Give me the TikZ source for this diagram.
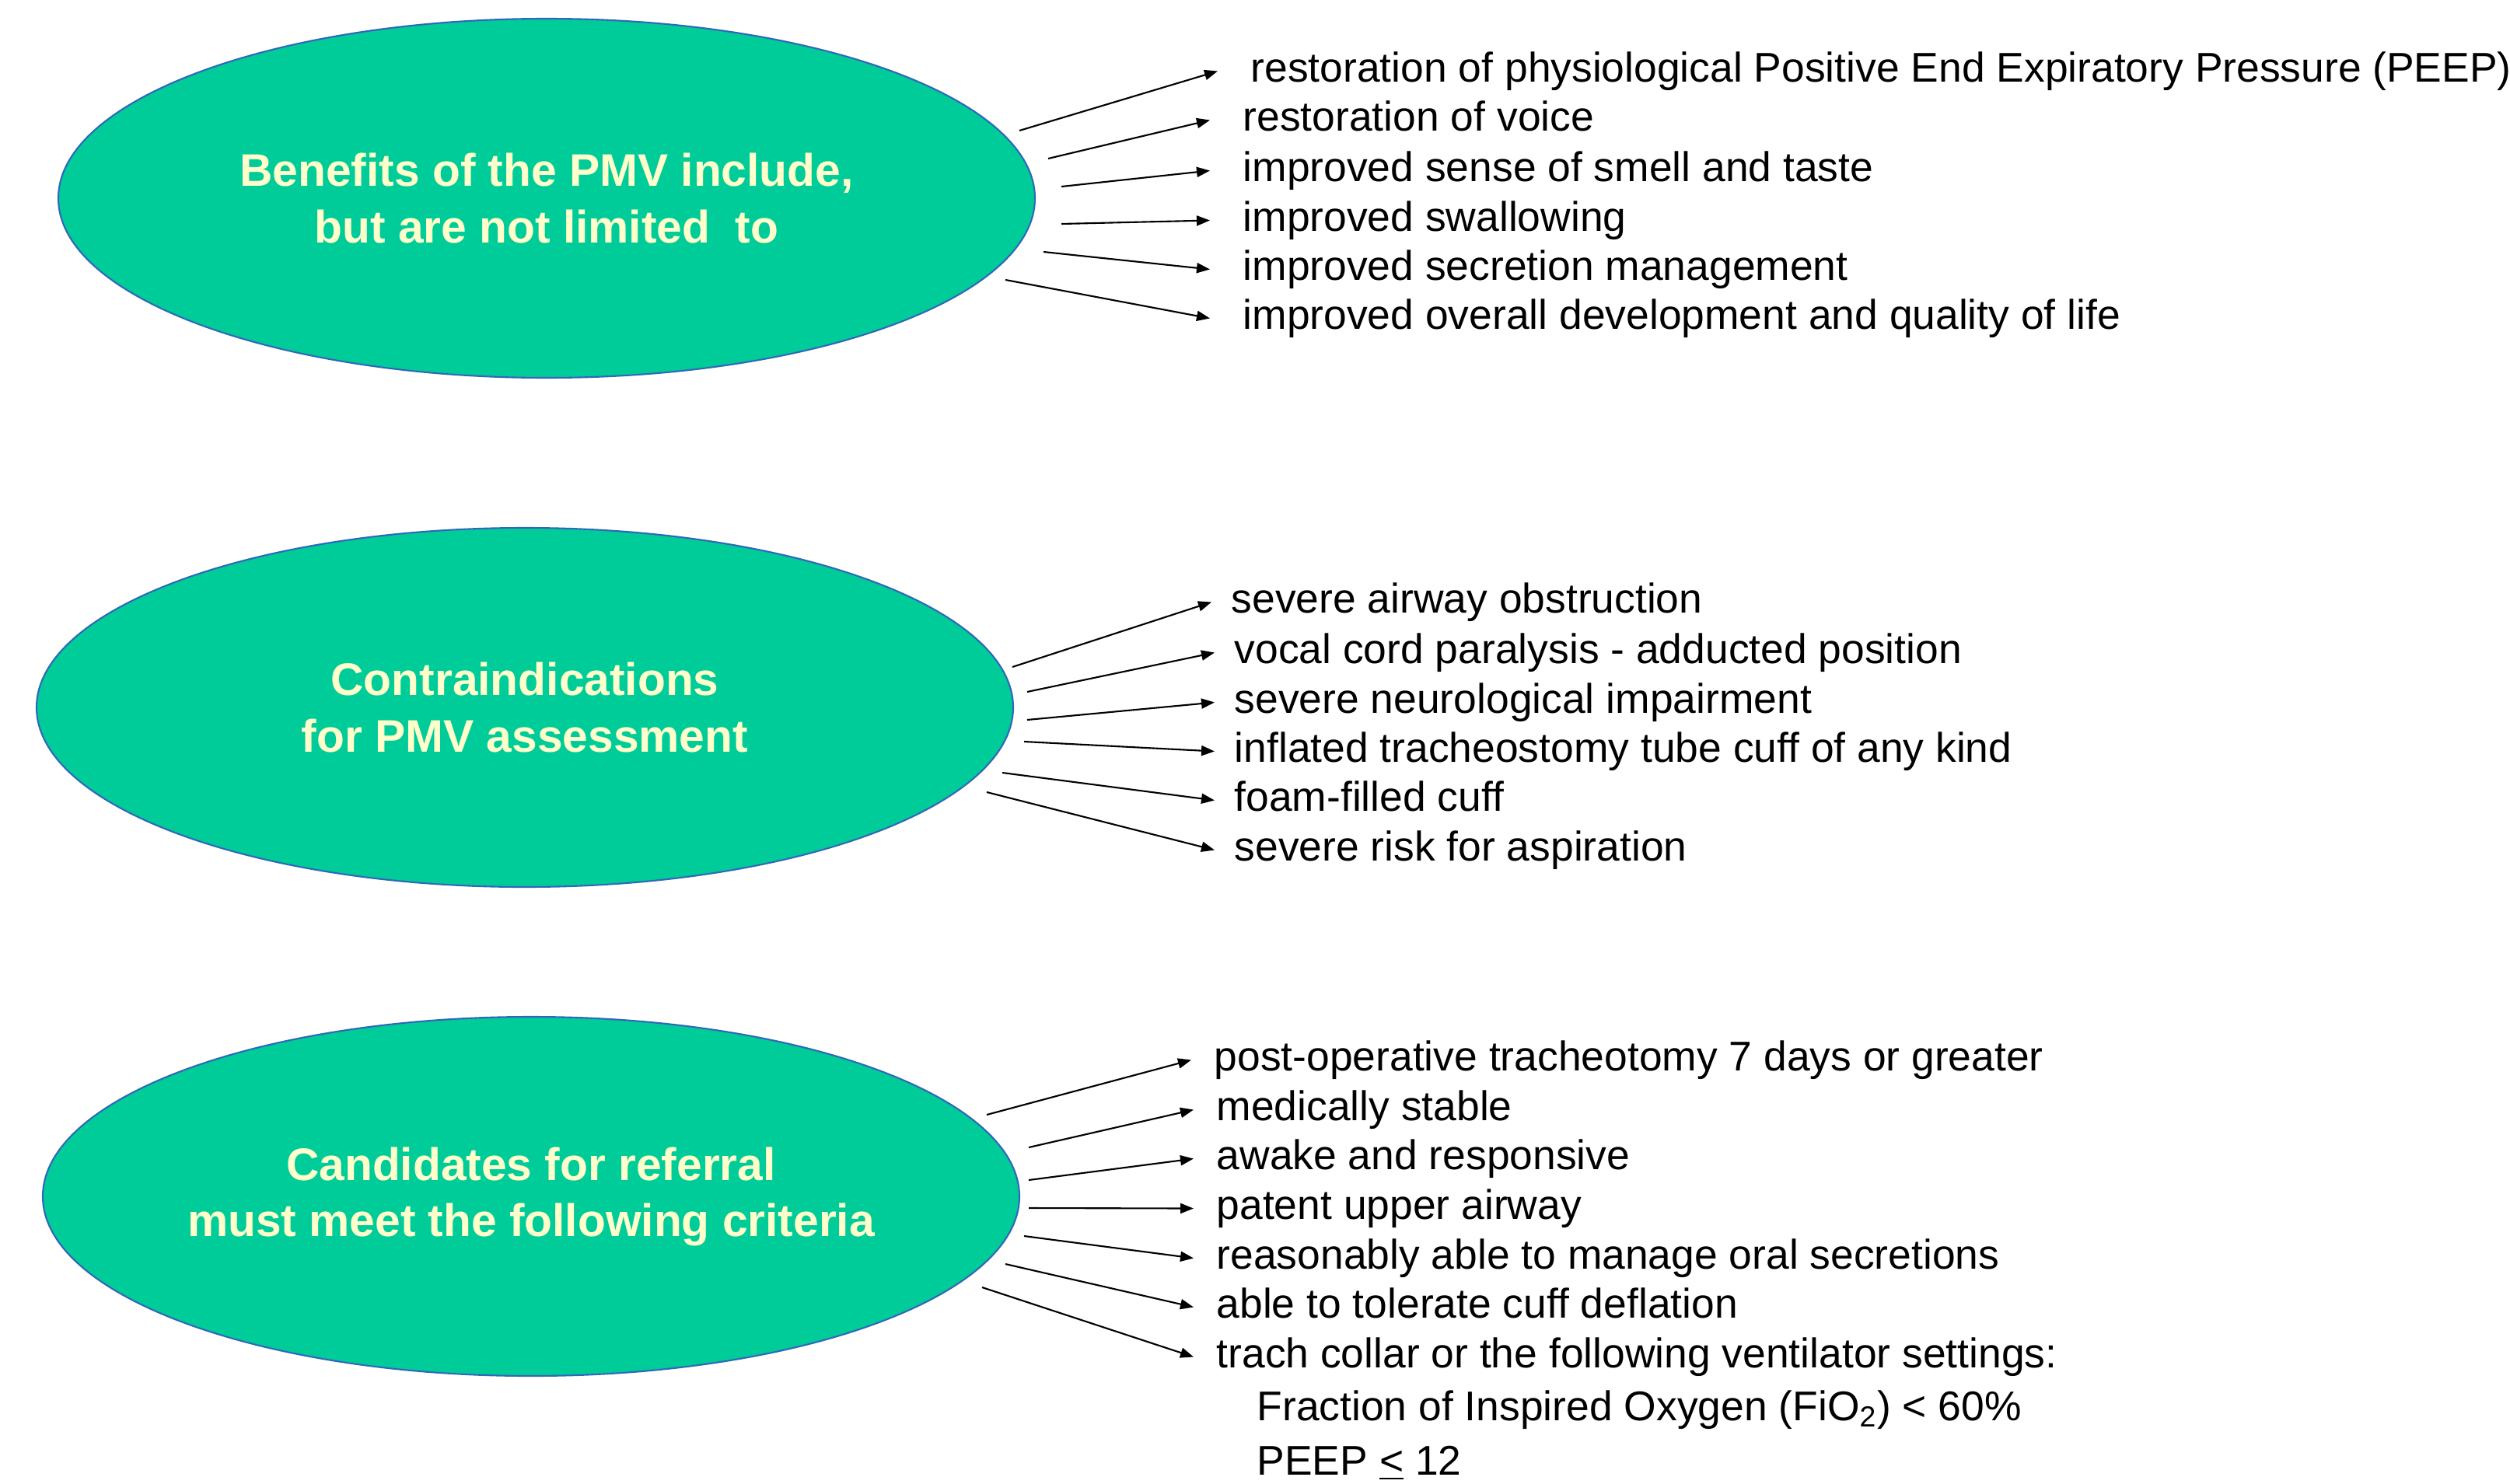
\documentclass[tikz,border=0pt]{standalone}
\usepackage{fontspec}
\setmainfont{Liberation Sans}
\usetikzlibrary{shapes.geometric,arrows.meta}
\definecolor{pmvgreen}{RGB}{0,204,153}
\definecolor{pmvedge}{RGB}{46,104,184}
\definecolor{pmvtext}{RGB}{255,255,204}

\begin{document}
\begin{tikzpicture}[x=1cm,y=1cm,
    bubble/.style={ellipse,draw=pmvedge,line width=0.6pt,fill=pmvgreen,minimum width=12.56cm,minimum height=4.62cm,inner sep=0pt,align=center,text=pmvtext,font=\fontsize{16.7pt}{20.5pt}\selectfont\bfseries},
    item/.style={anchor=base west,inner ysep=0pt,inner xsep=#1,text height=0.40cm,text depth=0.13cm,font=\fontsize{15.2pt}{18pt}\selectfont},
    item/.default=0pt,
    link/.style={-{Triangle[length=0.17cm,width=0.13cm]},line width=0.6pt}]
    \useasboundingbox (0,0) rectangle (32.28,-19.08);
    \node[bubble] (benefits) at (7.03,-2.55) {Benefits of the PMV include,\\but are not limited~ to};
    \node[bubble] (contra) at (6.75,-9.10) {Contraindications\\for PMV assessment};
    \node[bubble] (cand) at (6.83,-15.39) {Candidates for referral\\must meet the following criteria};

    \node[item=0.42cm] (b1) at (15.66,-1.05) {restoration of physiological Positive End Expiratory Pressure (PEEP)};
    \node[item=0.42cm] (b2) at (15.56,-1.68) {restoration of voice};
    \node[item=0.42cm] (b3) at (15.56,-2.33) {improved sense of smell and taste};
    \node[item=0.42cm] (b4) at (15.56,-2.97) {improved swallowing};
    \node[item=0.42cm] (b5) at (15.56,-3.60) {improved secretion management};
    \node[item=0.42cm] (b6) at (15.56,-4.23) {improved overall development and quality of life};

    \node[item=0.25cm] (c1) at (15.58,-7.88) {severe airway obstruction};
    \node[item=0.25cm] (c2) at (15.62,-8.53) {vocal cord paralysis - adducted position};
    \node[item=0.25cm] (c3) at (15.62,-9.17) {severe neurological impairment};
    \node[item=0.25cm] (c4) at (15.62,-9.80) {inflated tracheostomy tube cuff of any kind};
    \node[item=0.25cm] (c5) at (15.62,-10.43) {foam-filled cuff};
    \node[item=0.25cm] (c6) at (15.62,-11.07) {severe risk for aspiration};

    \node[item=0.29cm] (r1) at (15.32,-13.77) {post-operative tracheotomy 7 days or greater};
    \node[item=0.29cm] (r2) at (15.35,-14.41) {medically stable};
    \node[item=0.29cm] (r3) at (15.35,-15.04) {awake and responsive};
    \node[item=0.29cm] (r4) at (15.35,-15.68) {patent upper airway};
    \node[item=0.29cm] (r5) at (15.35,-16.32) {reasonably able to manage oral secretions};
    \node[item=0.29cm] (r6) at (15.35,-16.95) {able to tolerate cuff deflation};
    \node[item=0.29cm] (r7) at (15.35,-17.59) {trach collar or the following ventilator settings:};
    \node[item] (fio) at (16.16,-18.27) {Fraction of Inspired Oxygen (FiO\textsubscript{2}) < 60\%};
    \node[item] (peep) at (16.16,-18.97) {PEEP \underline{<} 12};

    \coordinate (fromb1) at (13.11,-1.68);
    \coordinate (fromb2) at (13.48,-2.04);
    \coordinate (fromb3) at (13.65,-2.40);
    \coordinate (fromb4) at (13.65,-2.88);
    \coordinate (fromb5) at (13.42,-3.24);
    \coordinate (fromb6) at (12.93,-3.60);
    \coordinate (fromc1) at (13.02,-8.58);
    \coordinate (fromc2) at (13.21,-8.90);
    \coordinate (fromc3) at (13.21,-9.26);
    \coordinate (fromc4) at (13.17,-9.54);
    \coordinate (fromc5) at (12.89,-9.94);
    \coordinate (fromc6) at (12.69,-10.19);
    \coordinate (fromr1) at (12.69,-14.34);
    \coordinate (fromr2) at (13.23,-14.76);
    \coordinate (fromr3) at (13.23,-15.18);
    \coordinate (fromr4) at (13.23,-15.54);
    \coordinate (fromr5) at (13.17,-15.90);
    \coordinate (fromr6) at (12.93,-16.26);
    \coordinate (fromr7) at (12.63,-16.56);

    \draw[link] (fromb1) -- (b1.west);
    \draw[link] (fromb2) -- (b2.west);
    \draw[link] (fromb3) -- (b3.west);
    \draw[link] (fromb4) -- (b4.west);
    \draw[link] (fromb5) -- (b5.west);
    \draw[link] (fromb6) -- (b6.west);
    \draw[link] (fromc1) -- (c1.west);
    \draw[link] (fromc2) -- (c2.west);
    \draw[link] (fromc3) -- (c3.west);
    \draw[link] (fromc4) -- (c4.west);
    \draw[link] (fromc5) -- (c5.west);
    \draw[link] (fromc6) -- (c6.west);
    \draw[link] (fromr1) -- (r1.west);
    \draw[link] (fromr2) -- (r2.west);
    \draw[link] (fromr3) -- (r3.west);
    \draw[link] (fromr4) -- (r4.west);
    \draw[link] (fromr5) -- (r5.west);
    \draw[link] (fromr6) -- (r6.west);
    \draw[link] (fromr7) -- (r7.west);
\end{tikzpicture}
\end{document}
